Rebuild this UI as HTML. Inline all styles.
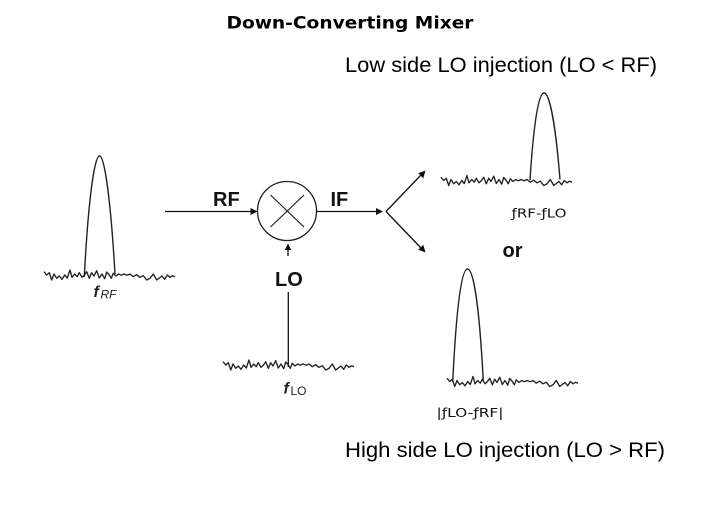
<!DOCTYPE html>
<html>
<head>
<meta charset="utf-8">
<style>
html,body{margin:0;padding:0;background:#fff;}
svg{display:block;}
</style>
</head>
<body>
<svg width="701" height="509" viewBox="0 0 701 509" xmlns="http://www.w3.org/2000/svg">
<defs>
<path id="noise" fill="none" stroke="#222" stroke-width="1.35" stroke-linejoin="round"
 d="M0,-3.3 L2.7,0 L5.3,-2.3 L7.7,5 L10,-1 L12.7,3.3 L15.3,1 L18,4.3 L20.7,0 L23.3,3 L26,-5 L28,2.3 L30.7,-1 L33.3,1.7 L35.3,-2.3 L38,2.3 L40.3,0.3 L42.7,-3.3 L45.3,3.3 L47.7,-2.3 L50,1 L52.7,-4.3 L55.3,3 L58,-1 L60.7,3.7 L62.7,-3 L65.3,0 L67.3,3.3 L69.3,-1.7 L72,1 L74.7,-1 L77.3,0.3 L80,-1 L83.3,0.3 L86,-1 L89.3,1.7 L92.7,-0.3 L96,2.3 L99.3,0.7 L102.7,5 L106,3.3 L109.3,-1 L112.7,5 L115.3,3 L118,1 L120.7,4.3 L123.3,0 L126,2.3 L128.7,0.7 L131,1.7"/>
</defs>

<text x="226.5" y="28.7" font-family="DejaVu Sans, Liberation Sans, sans-serif" font-weight="bold" font-size="16.5" textLength="247" lengthAdjust="spacingAndGlyphs" fill="#000">Down-Converting Mixer</text>

<text x="345" y="72" font-family="Liberation Sans, sans-serif" font-size="21" textLength="312" lengthAdjust="spacingAndGlyphs" fill="#000">Low side LO injection (LO &lt; RF)</text>

<text x="345" y="457" font-family="Liberation Sans, sans-serif" font-size="21" textLength="320" lengthAdjust="spacingAndGlyphs" fill="#000">High side LO injection (LO &gt; RF)</text>

<!-- RF spectrum -->
<use href="#noise" x="44" y="275"/>
<path d="M84.3,277 C88,205 94,156 99.5,156 C105,156 111,205 115,274" fill="none" stroke="#222" stroke-width="1.4"/>
<text x="93.5" y="297" font-family="Liberation Sans, sans-serif" font-style="italic" font-weight="bold" font-size="16" fill="#222">f</text>
<text x="100.5" y="298.5" font-family="Liberation Sans, sans-serif" font-style="italic" font-size="12" fill="#222">RF</text>

<!-- RF arrow -->
<line x1="165" y1="211.5" x2="252" y2="211.5" stroke="#111" stroke-width="1.3"/>
<polygon points="257.5,211.5 250.5,208 250.5,215" fill="#111"/>
<text x="213" y="206" font-family="Liberation Sans, sans-serif" font-weight="bold" font-size="20" fill="#111">RF</text>

<!-- Mixer -->
<circle cx="287" cy="211" r="29.5" fill="none" stroke="#222" stroke-width="1.3"/>
<line x1="270.5" y1="195" x2="304" y2="227" stroke="#222" stroke-width="1.2"/>
<line x1="304" y1="195" x2="270.5" y2="227" stroke="#222" stroke-width="1.2"/>

<!-- IF arrow -->
<line x1="316.5" y1="211.5" x2="377" y2="211.5" stroke="#111" stroke-width="1.3"/>
<polygon points="383,211.5 376,208 376,215" fill="#111"/>
<text x="330.5" y="206" font-family="Liberation Sans, sans-serif" font-weight="bold" font-size="20" fill="#111">IF</text>

<!-- Branch arrows -->
<line x1="386" y1="211.5" x2="421" y2="175" stroke="#111" stroke-width="1.3"/>
<polygon points="425.5,170.5 418.2,173.3 423.3,178.2" fill="#111"/>
<line x1="386" y1="211.5" x2="421" y2="248" stroke="#111" stroke-width="1.3"/>
<polygon points="425.5,252.5 423.3,244.8 418.2,249.7" fill="#111"/>

<!-- LO arrow -->
<line x1="288" y1="256" x2="288" y2="249" stroke="#111" stroke-width="1.3"/>
<polygon points="288,243.5 284.8,250 291.2,250" fill="#111"/>
<text x="275" y="286" font-family="Liberation Sans, sans-serif" font-weight="bold" font-size="20" fill="#111">LO</text>
<line x1="288.3" y1="292" x2="288.3" y2="367" stroke="#111" stroke-width="1.3"/>

<!-- LO spectrum -->
<use href="#noise" x="223" y="365"/>
<text x="283.5" y="393.5" font-family="Liberation Sans, sans-serif" font-style="italic" font-weight="bold" font-size="16" fill="#222">f</text>
<text x="290.5" y="395" font-family="Liberation Sans, sans-serif" font-size="12" fill="#222">LO</text>

<!-- Upper output spectrum -->
<use href="#noise" x="441" y="180.5"/>
<path d="M530,180 C534,118 539,93 544,93 C549,93 555,118 560,179.5" fill="none" stroke="#222" stroke-width="1.4"/>
<text x="511.5" y="217.5" font-family="DejaVu Sans, Liberation Sans, sans-serif" font-size="12.5" textLength="55" lengthAdjust="spacingAndGlyphs" fill="#111">ƒRF-ƒLO</text>

<text x="502.5" y="257" font-family="Liberation Sans, sans-serif" font-weight="bold" font-size="20" fill="#111">or</text>

<!-- Lower output spectrum -->
<use href="#noise" x="447" y="381.5"/>
<path d="M452.7,382 C456.7,300 462,269 467.5,269 C473,269 479,300 483.3,381" fill="none" stroke="#222" stroke-width="1.4"/>
<text x="436.5" y="417" font-family="DejaVu Sans, Liberation Sans, sans-serif" font-size="12.5" textLength="67" lengthAdjust="spacingAndGlyphs" fill="#111">|ƒLO-ƒRF|</text>
</svg>
</body>
</html>
